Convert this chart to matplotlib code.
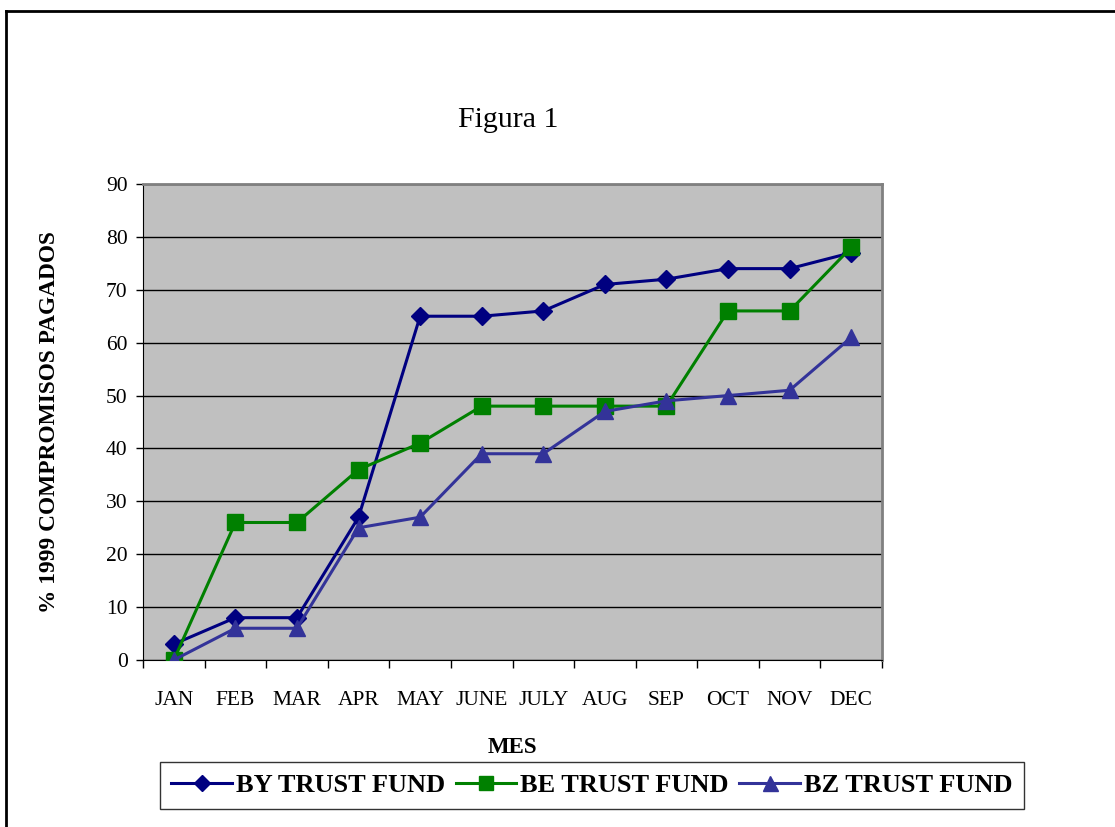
import numpy as np
import matplotlib
matplotlib.use("Agg")
import matplotlib.pyplot as plt
from matplotlib.lines import Line2D

plt.rcParams['font.family'] = ['Liberation Serif', 'DejaVu Serif']

months = ["JAN", "FEB", "MAR", "APR", "MAY", "JUNE", "JULY", "AUG", "SEP", "OCT", "NOV", "DEC"]
by_fund = [3, 8, 8, 27, 65, 65, 66, 71, 72, 74, 74, 77]
be_fund = [0, 26, 26, 36, 41, 48, 48, 48, 48, 66, 66, 78]
bz_fund = [0, 6, 6, 25, 27, 39, 39, 47, 49, 50, 51, 61]
series_names = ["BY TRUST FUND", "BE TRUST FUND", "BZ TRUST FUND"]
yticks = list(range(0, 91, 10))

fig = plt.figure(figsize=(11.15, 8.27), dpi=100)
ax = fig.add_axes([143/1115, 1-660/827, (882-143)/1115, (660-184)/827])
ax.set_facecolor("#C0C0C0")

x = np.arange(len(months))
ax.plot(x, by_fund, color="#000080", lw=2.2, marker="D", ms=9, label=series_names[0], zorder=3)
ax.plot(x, be_fund, color="#008000", lw=2.2, marker="s", ms=11, label=series_names[1], zorder=3)
ax.plot(x, bz_fund, color="#333399", lw=2.2, marker="^", ms=12, label=series_names[2], zorder=4)

ax.set_xlim(-0.5, 11.5)
ax.set_ylim(0, 90)
ax.set_yticks(yticks)
ax.yaxis.grid(True, color="black", lw=1)
ax.set_axisbelow(True)
ax.tick_params(axis="y", direction="out", length=5, width=1, labelsize=15.5, pad=6)

# tick marks between categories, labels in the middle
ax.set_xticks(np.arange(-0.5, 12, 1))
ax.set_xticklabels([])
ax.tick_params(axis="x", which="major", direction="out", length=6, width=1)
ax.set_xticks(x, minor=True)
ax.set_xticklabels(months, minor=True)
ax.tick_params(axis="x", which="minor", length=0, labelsize=15.5, pad=22)

for s in ["top", "right"]:
    ax.spines[s].set_color("#808080")
    ax.spines[s].set_linewidth(2)
ax.spines["left"].set_color("black")
ax.spines["bottom"].set_color("black")

ax.set_ylabel("% 1999 COMPROMISOS PAGADOS", fontsize=16.8, fontweight="bold", labelpad=33)
ax.set_xlabel("MES", fontsize=16.5, fontweight="bold", labelpad=20)

fig.text(508/1115, 1-120/827, "Figura 1", fontsize=21.5, ha="center", va="center")

# outer border (left and top edges)
fig.add_artist(Line2D([6/1115, 6/1115], [0, 1-11/827], color="black", lw=2, transform=fig.transFigure))
fig.add_artist(Line2D([6/1115, 1], [1-11/827, 1-11/827], color="black", lw=2, transform=fig.transFigure))

handles, labels = ax.get_legend_handles_labels()
leg = fig.legend(handles, labels, loc="center", bbox_to_anchor=(592/1115, 1-785.5/827), ncol=3,
                 prop={"weight": "bold", "size": 19}, frameon=True, fancybox=False,
                 edgecolor="black", handlelength=2.3, handletextpad=0.15, columnspacing=0.4,
                 borderpad=0.45, borderaxespad=0, markerscale=0.9)
leg.get_frame().set_linewidth(1)

fig.savefig("out.png", dpi=100)
